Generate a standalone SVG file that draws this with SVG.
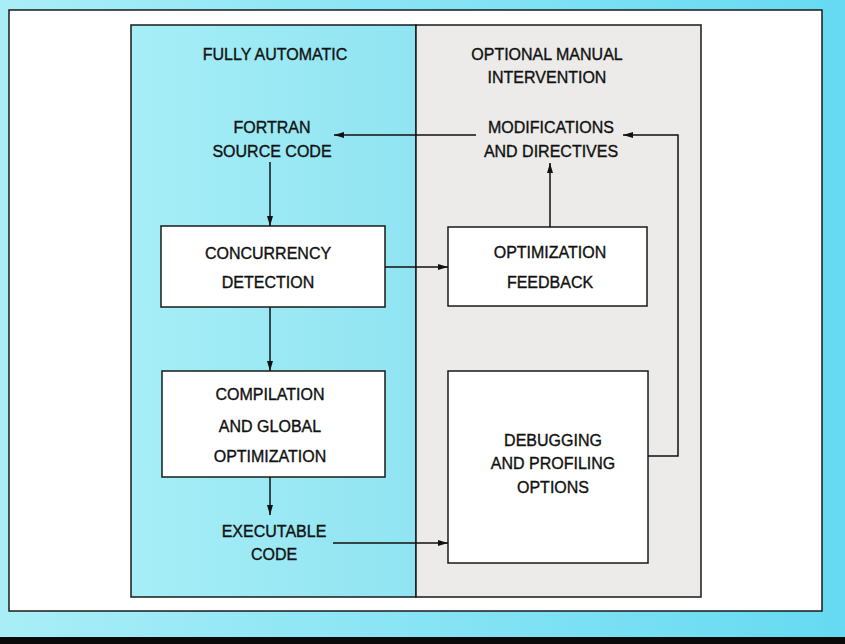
<svg xmlns="http://www.w3.org/2000/svg" width="845" height="644" viewBox="0 0 845 644">
  <defs>
    <linearGradient id="bg" x1="0" y1="0" x2="1" y2="0">
      <stop offset="0" stop-color="#a9eef7"/>
      <stop offset="1" stop-color="#66daf2"/>
    </linearGradient>
    <linearGradient id="auto" x1="0" y1="0" x2="1" y2="0">
      <stop offset="0" stop-color="#a6eef7"/>
      <stop offset="1" stop-color="#90e4f1"/>
    </linearGradient>
    <marker id="ah" viewBox="0 0 10 6" refX="10" refY="3" markerWidth="10" markerHeight="6" markerUnits="userSpaceOnUse" orient="auto">
      <path d="M0,0 L10,3 L0,6 Z" fill="#111"/>
    </marker>
    <style>
      .box { fill: #ffffff; stroke: #1a1a1a; stroke-width: 1.5; }
      .panel { stroke: #1a1a1a; stroke-width: 1.5; }
      text { font-family: "Liberation Sans", Arial, sans-serif; font-size: 16px; fill: #111; text-anchor: middle; stroke: #111; stroke-width: 0.35; }
      .conn { fill: none; stroke: #111; stroke-width: 1.5; }
    </style>
  </defs>

  <rect x="0" y="0" width="845" height="644" fill="url(#bg)"/>
  <rect x="0" y="637" width="845" height="7" fill="#0a0a0a"/>
  <rect x="9" y="10" width="813" height="601" fill="#ffffff" stroke="#1a1a1a" stroke-width="1.5"/>

  <g id="panel-automatic">
    <rect class="panel" x="131" y="25" width="285" height="572" fill="url(#auto)"/>
    <text x="275" y="60">FULLY  AUTOMATIC</text>
  </g>
  <g id="panel-manual">
    <rect class="panel" x="416" y="25" width="285" height="572" fill="#ecebe9"/>
    <text x="547" y="60">OPTIONAL MANUAL</text>
    <text x="547" y="83">INTERVENTION</text>
  </g>

  <g id="fortran-source">
    <text x="272" y="133">FORTRAN</text>
    <text x="272" y="157">SOURCE CODE</text>
  </g>
  <g id="modifications">
    <text x="551" y="133">MODIFICATIONS</text>
    <text x="551" y="157">AND DIRECTIVES</text>
  </g>
  <g id="concurrency-detection">
    <rect class="box" x="161" y="226" width="224" height="81"/>
    <text x="268" y="259">CONCURRENCY</text>
    <text x="268" y="288">DETECTION</text>
  </g>
  <g id="optimization-feedback">
    <rect class="box" x="448" y="227" width="199" height="79"/>
    <text x="550" y="258">OPTIMIZATION</text>
    <text x="550" y="288">FEEDBACK</text>
  </g>
  <g id="compilation">
    <rect class="box" x="162" y="371" width="223" height="106"/>
    <text x="270" y="400">COMPILATION</text>
    <text x="270" y="432">AND GLOBAL</text>
    <text x="270" y="462">OPTIMIZATION</text>
  </g>
  <g id="debugging">
    <rect class="box" x="448" y="371" width="200" height="192"/>
    <text x="553" y="446">DEBUGGING</text>
    <text x="553" y="469">AND PROFILING</text>
    <text x="553" y="493">OPTIONS</text>
  </g>
  <g id="executable-code">
    <text x="274" y="537">EXECUTABLE</text>
    <text x="274" y="560">CODE</text>
  </g>

  <g id="connectors">
    <path class="conn" d="M476,135 L334,135" marker-end="url(#ah)"/>
    <path class="conn" d="M270,162 L270,226" marker-end="url(#ah)"/>
    <path class="conn" d="M385,267 L448,267" marker-end="url(#ah)"/>
    <path class="conn" d="M550,227 L550,163" marker-end="url(#ah)"/>
    <path class="conn" d="M648,456 L678,456 L678,135 L623,135" marker-end="url(#ah)"/>
    <path class="conn" d="M270,307 L270,371" marker-end="url(#ah)"/>
    <path class="conn" d="M270,477 L270,515" marker-end="url(#ah)"/>
    <path class="conn" d="M333,543 L448,543" marker-end="url(#ah)"/>
  </g>
</svg>
